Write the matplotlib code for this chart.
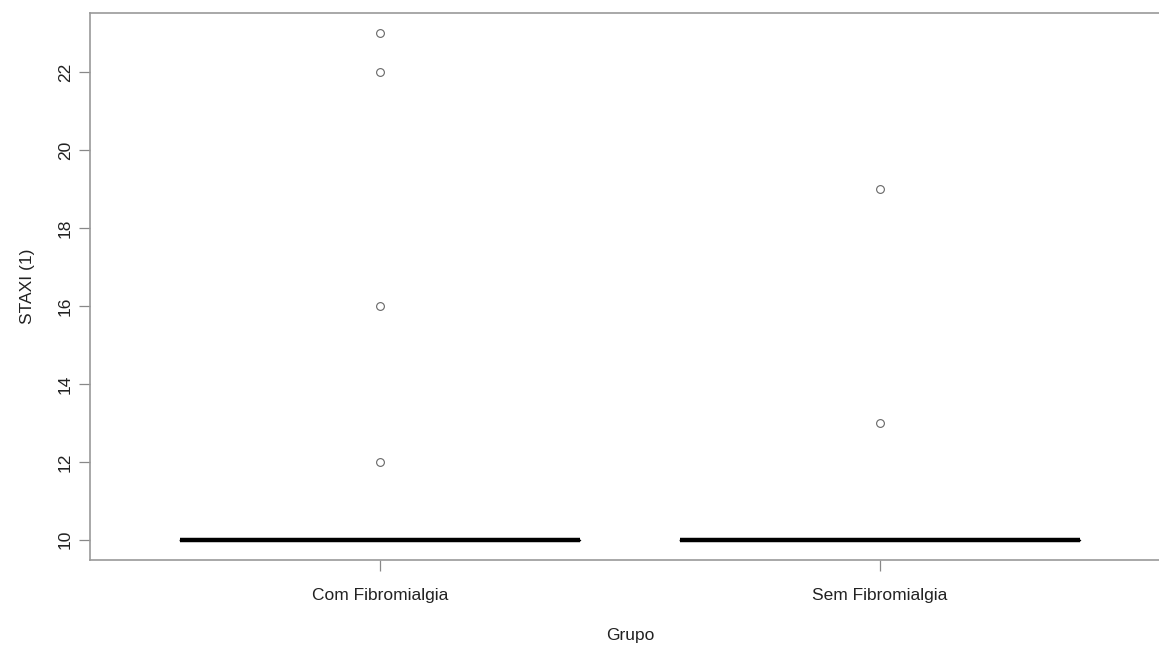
import matplotlib.pyplot as plt

plt.rcParams['font.family'] = ['Liberation Sans', 'DejaVu Sans']

grupos = ['Com Fibromialgia', 'Sem Fibromialgia']
# scores per group: most sit at the floor value 10
com_fibro = [10] * 30 + [12, 16, 22, 23]
sem_fibro = [10] * 30 + [13, 19]
yticks = [10, 12, 14, 16, 18, 20, 22]

fig = plt.figure(figsize=(11.59, 6.48), dpi=100)
ax = fig.add_axes([90 / 1159, 88 / 648, 1080 / 1159, 547 / 648])

ax.boxplot([com_fibro, sem_fibro], positions=[1, 2], widths=0.8,
           whis=1.5, patch_artist=False,
           boxprops=dict(color='black', linewidth=1),
           whiskerprops=dict(color='black', linewidth=1, linestyle='--'),
           capprops=dict(color='black', linewidth=1),
           medianprops=dict(color='black', linewidth=3.2, solid_capstyle='butt'),
           flierprops=dict(marker='o', markersize=5.6, markerfacecolor='none',
                           markeredgecolor='#666666', markeredgewidth=0.8))

ax.set_xlim(0.42, 2.58)
ax.set_ylim(9.48, 23.52)
ax.set_xticks([1, 2])
ax.set_xticklabels(grupos, fontsize=12.5, color='#222222')
ax.set_yticks(yticks)
ax.set_yticklabels([str(v) for v in yticks], fontsize=12.5, color='#222222',
                   rotation=90, va='center')
ax.tick_params(axis='both', length=8, width=0.9, color='#888888')
ax.tick_params(axis='x', pad=12)
ax.tick_params(axis='y', pad=4.5)
for s in ax.spines.values():
    s.set_color('#999999')
    s.set_linewidth(1.2)

ax.set_xlabel('Grupo', fontsize=12.5, color='#222222', labelpad=18.5)
ax.set_ylabel('STAXI (1)', fontsize=12.5, color='#222222', labelpad=16.5)

fig.savefig('out.png', dpi=100)
